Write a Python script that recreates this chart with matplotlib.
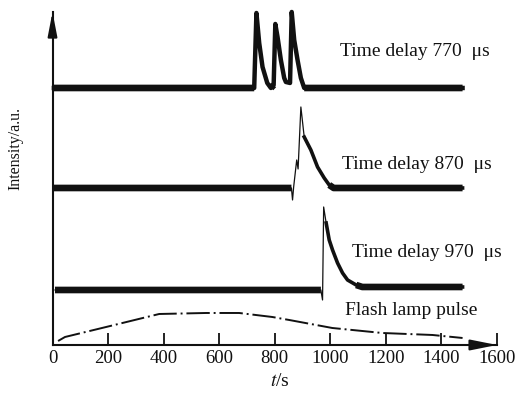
import numpy as np
import matplotlib
matplotlib.use("Agg")
import matplotlib.pyplot as plt

# Time axis (t/s) and intensity offsets
t770 = [5, 726, 734, 744, 756, 773, 786, 796, 802, 810, 822, 834, 840, 855, 861, 870, 882, 894, 906, 1476]
y770 = [257, 257, 332, 302, 278, 262, 257, 260, 321, 308, 285, 267, 263, 262, 333, 305, 285, 267, 257, 257]

t870 = [5, 860, 864, 868, 879, 884, 894, 906, 930, 954, 978, 996, 1012, 1476]
y870 = [157, 157, 145, 158, 185, 176, 238, 208, 195, 178, 167, 160, 157, 157]

t970 = [9, 966, 972, 976, 985, 996, 1008, 1026, 1044, 1062, 1093, 1115, 1476]
y970 = [55, 55, 45, 138, 122, 105, 95, 82, 72, 65, 60, 58, 58]

t_lamp = [20, 45, 193, 384, 553, 672, 791, 852, 1007, 1187, 1368, 1476]
y_lamp = [4, 8, 18, 31, 32, 32, 28, 25, 17, 12, 10, 7]

x_ticks = [0, 200, 400, 600, 800, 1000, 1200, 1400, 1600]

labels = ["Time delay 770  \u03bcs", "Time delay 870  \u03bcs", "Time delay 970  \u03bcs", "Flash lamp pulse"]
label_x = [1036, 1043, 1079, 1054]
label_y = [293, 180, 92, 34]

ink = "#111111"
plt.rcParams["font.family"] = ["Liberation Serif", "DejaVu Serif"]
plt.rcParams["mathtext.fontset"] = "stix"

fig = plt.figure(figsize=(5.24, 3.94), dpi=100)
ax = fig.add_axes([0.1002, 0.1244, 0.8483, 0.8452])
ax.set_xlim(0, 1600)
ax.set_ylim(0, 333)


def draw_trace(t, y, feat_lw, thin_tip):
    t = np.array(t, dtype=float)
    y = np.array(y, dtype=float)
    base = (y[0] + y[-1]) / 2.0
    near = np.abs(y - base) <= 4
    if thin_tip:
        # sharp spike drawn thin, the decay after it a bit heavier
        ax.plot(t, y, color=ink, lw=0.9, clip_on=False)
        k = int(np.argmax(y))
        ax.plot(t[k + 1:], y[k + 1:], color=ink, lw=feat_lw,
                solid_joinstyle="round", clip_on=False)
    else:
        ax.plot(t, y, color=ink, lw=feat_lw, solid_joinstyle="round", clip_on=False)
    # noisy baseline looks like a dense dark band
    ax.plot(t, np.ma.masked_where(~near, y), color=ink, lw=4.8,
            solid_capstyle="butt", clip_on=False)


draw_trace(t770, y770, 3.2, False)
draw_trace(t870, y870, 2.6, True)
draw_trace(t970, y970, 2.6, True)

ax.plot(t_lamp, y_lamp, color=ink, lw=1.4, linestyle=(0, (12, 2, 1, 2)))

for txt, x, y in zip(labels, label_x, label_y):
    ax.text(x, y, txt, fontsize=14, color=ink, ha="left", va="center")

for side in ["top", "right"]:
    ax.spines[side].set_visible(False)
for side in ["left", "bottom"]:
    ax.spines[side].set_linewidth(1.5)
    ax.spines[side].set_color(ink)

ax.set_xticks(x_ticks)
ax.set_xticklabels([str(v) for v in x_ticks])
ax.set_yticks([])
ax.tick_params(axis="x", direction="in", length=8.5, width=1.3, pad=3.5,
               labelsize=13.5, colors=ink)

# axis arrow heads
ax.annotate("", xy=(1.0, 0), xytext=(0.94, 0), xycoords="axes fraction",
            arrowprops=dict(arrowstyle="-|>,head_length=1.6,head_width=0.32",
                            color=ink, lw=1.5, shrinkA=0, shrinkB=0),
            annotation_clip=False)
ax.annotate("", xy=(0, 1.0), xytext=(0, 0.94), xycoords="axes fraction",
            arrowprops=dict(arrowstyle="-|>,head_length=1.45,head_width=0.28",
                            color=ink, lw=1.5, shrinkA=0, shrinkB=0),
            annotation_clip=False)

fig.text(280 / 524, 1 - 381 / 394, "$t$/s", fontsize=14, color=ink, ha="center", va="center")
fig.text(15 / 524, 1 - 148 / 394, "Intensity/a.u.", fontsize=11.5, color=ink,
         rotation=90, ha="center", va="center")

fig.savefig("out.png", dpi=100)
